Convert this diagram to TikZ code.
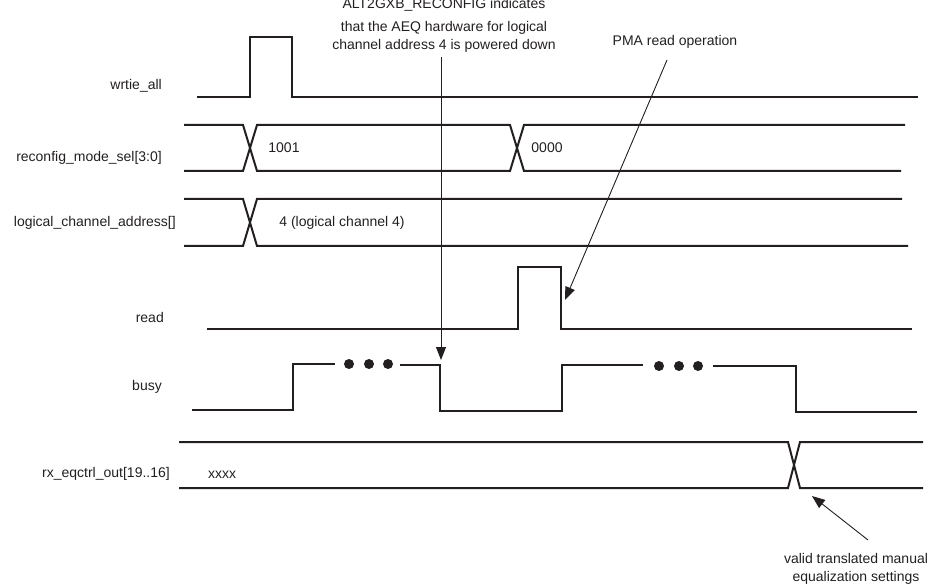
\documentclass[tikz,border=0pt]{standalone}
\usepackage{fontspec}
\setmainfont{Liberation Sans}
\usetikzlibrary{arrows.meta}
\definecolor{ink}{HTML}{231F20}
\begin{document}
\begin{tikzpicture}[x=1pt,y=-1pt,
  wave/.style={line width=2pt, line join=miter, draw=ink},
  callout/.style={line width=0.9pt, draw=ink, -{Triangle[length=13pt,width=10pt]}},
  lbl/.style={inner sep=0pt, text=ink, font=\fontsize{14}{18}\selectfont},
  bigdot/.style={circle, fill=ink, inner sep=0pt, minimum size=10pt}]
\useasboundingbox (0,0) rectangle (935,588);

% signal names
\node[lbl, anchor=east] (nwr) at (162,86) {wrtie\_all};
\node[lbl, anchor=east] (nrc) at (162,158) {reconfig\_mode\_sel[3:0]};
\node[lbl, anchor=east] (nlc) at (176,223) {logical\_channel\_address[]};
\node[lbl, anchor=east] (nrd) at (164,317) {read};
\node[lbl, anchor=east] (nbs) at (162,387) {busy};
\node[lbl, anchor=east] (nrx) at (170,474) {rx\_eqctrl\_out[19..16]};

% wrtie_all
\draw[wave] (197,97) -- (250,97) -- (250,37) -- (292,37) -- (292,97) -- (918,97);

% reconfig_mode_sel
\draw[wave] (184,125) -- (243,125) -- (257,171) -- (510,171) -- (524,125) -- (905,125);
\draw[wave] (184,171) -- (243,171) -- (257,125) -- (510,125) -- (524,171) -- (901,171);
\node[lbl] (v1001) at (284,148) {1001};
\node[lbl] (v0000) at (547,148) {0000};

% logical_channel_address
\draw[wave] (184,199) -- (243,199) -- (257,246) -- (908,246);
\draw[wave] (184,246) -- (243,246) -- (257,199) -- (902,199);
\node[lbl] (vlc) at (342,223) {4 (logical channel 4)};

% read
\draw[wave] (207,329) -- (518,329) -- (518,267) -- (561,267) -- (561,329) -- (912,329);

% busy
\draw[wave] (192,410) -- (293,410) -- (293,364) -- (335,364);
\node[bigdot] (d1) at (349,364) {};
\node[bigdot] (d2) at (369,364) {};
\node[bigdot] (d3) at (388,364) {};
\draw[wave] (400,365) -- (440,365) -- (440,411) -- (562,411) -- (562,365) -- (643,365);
\node[bigdot] (d4) at (659,366) {};
\node[bigdot] (d5) at (679,366) {};
\node[bigdot] (d6) at (698,366) {};
\draw[wave] (713,366) -- (796,366) -- (796,412) -- (917,412);

% rx_eqctrl_out
\draw[wave] (179,442) -- (788,442) -- (800,488) -- (923,488);
\draw[wave] (179,488) -- (788,488) -- (800,442) -- (923,442);
\node[lbl] (vxx) at (222,475) {xxxx};

% annotations
\node[lbl, align=center, anchor=south] (aeq) at (444,53) {ALT2GXB\_RECONFIG indicates\\[5pt]that the AEQ hardware for logical\\channel address 4 is powered down};
\node[lbl] (pma) at (675,42) {PMA read operation};
\node[lbl, align=center] (valid) at (856,569) {valid translated manual\\equalization settings};

\coordinate (aeqS) at (441,57);
\coordinate (aeqT) at (441,360);
\coordinate (pmaS) at (667,60);
\coordinate (pmaT) at (565,300);
\coordinate (valS) at (868,540);
\coordinate (valT) at (812,496);
\draw[callout] (aeqS) -- (aeqT);
\draw[callout] (pmaS) -- (pmaT);
\draw[callout] (valS) -- (valT);
\end{tikzpicture}
\end{document}
